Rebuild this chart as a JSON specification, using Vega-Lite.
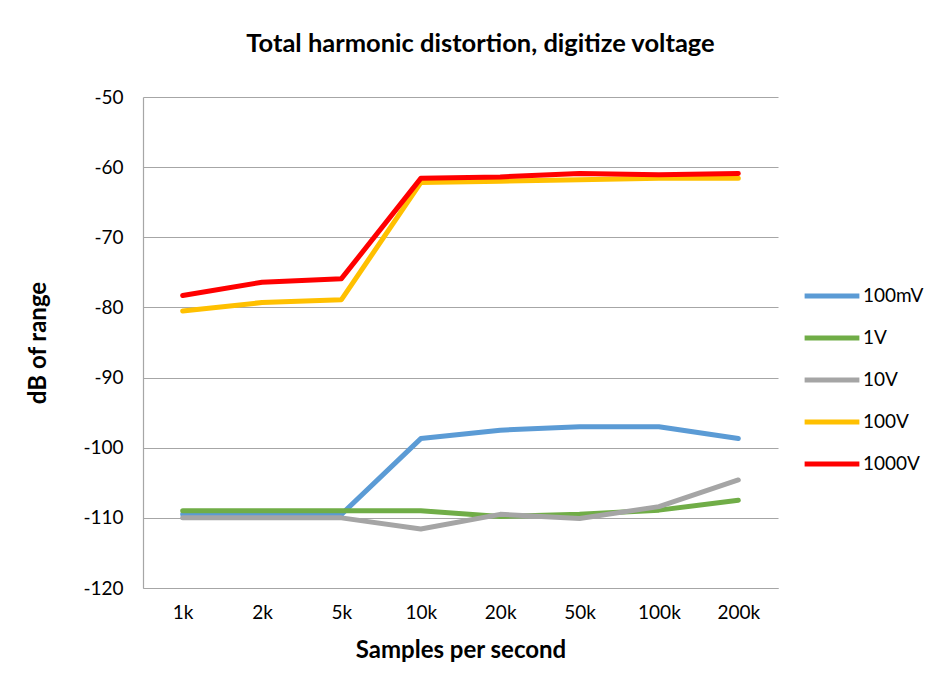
{
  "$schema": "https://vega.github.io/schema/vega-lite/v6.json",
  "width": 635,
  "height": 491,
  "autosize": {"type": "none"},
  "padding": {"left": 143, "top": 97, "right": 162, "bottom": 99},
  "background": "white",
  "title": {
    "text": "Total harmonic distortion, digitize voltage",
    "font": "Lato",
    "fontSize": 25.5,
    "fontWeight": "bold",
    "color": "#000000",
    "anchor": "middle",
    "dx": 20,
    "offset": 31
  },
  "config": {
    "view": {"stroke": null},
    "font": "Lato"
  },
  "data": {
    "values": [
      {"rate": "1k", "series": "100mV", "db": -109.5},
      {"rate": "2k", "series": "100mV", "db": -109.5},
      {"rate": "5k", "series": "100mV", "db": -109.5},
      {"rate": "10k", "series": "100mV", "db": -98.7},
      {"rate": "20k", "series": "100mV", "db": -97.5},
      {"rate": "50k", "series": "100mV", "db": -97.0},
      {"rate": "100k", "series": "100mV", "db": -97.0},
      {"rate": "200k", "series": "100mV", "db": -98.7},
      {"rate": "1k", "series": "1V", "db": -109.0},
      {"rate": "2k", "series": "1V", "db": -109.0},
      {"rate": "5k", "series": "1V", "db": -109.0},
      {"rate": "10k", "series": "1V", "db": -109.0},
      {"rate": "20k", "series": "1V", "db": -109.8},
      {"rate": "50k", "series": "1V", "db": -109.5},
      {"rate": "100k", "series": "1V", "db": -108.9},
      {"rate": "200k", "series": "1V", "db": -107.5},
      {"rate": "1k", "series": "10V", "db": -110.0},
      {"rate": "2k", "series": "10V", "db": -110.0},
      {"rate": "5k", "series": "10V", "db": -110.0},
      {"rate": "10k", "series": "10V", "db": -111.6},
      {"rate": "20k", "series": "10V", "db": -109.5},
      {"rate": "50k", "series": "10V", "db": -110.1},
      {"rate": "100k", "series": "10V", "db": -108.4},
      {"rate": "200k", "series": "10V", "db": -104.6},
      {"rate": "1k", "series": "100V", "db": -80.5},
      {"rate": "2k", "series": "100V", "db": -79.3},
      {"rate": "5k", "series": "100V", "db": -78.9},
      {"rate": "10k", "series": "100V", "db": -62.2},
      {"rate": "20k", "series": "100V", "db": -62.0},
      {"rate": "50k", "series": "100V", "db": -61.8},
      {"rate": "100k", "series": "100V", "db": -61.6},
      {"rate": "200k", "series": "100V", "db": -61.6},
      {"rate": "1k", "series": "1000V", "db": -78.3},
      {"rate": "2k", "series": "1000V", "db": -76.4},
      {"rate": "5k", "series": "1000V", "db": -75.9},
      {"rate": "10k", "series": "1000V", "db": -61.6},
      {"rate": "20k", "series": "1000V", "db": -61.4},
      {"rate": "50k", "series": "1000V", "db": -60.9},
      {"rate": "100k", "series": "1000V", "db": -61.1},
      {"rate": "200k", "series": "1000V", "db": -60.9}
    ]
  },
  "mark": {"type": "line", "strokeWidth": 5, "strokeCap": "round", "strokeJoin": "round"},
  "encoding": {
    "x": {
      "field": "rate",
      "type": "ordinal",
      "sort": ["1k", "2k", "5k", "10k", "20k", "50k", "100k", "200k"],
      "scale": {"type": "point", "padding": 0.5},
      "axis": {
        "title": "Samples per second",
        "titleFont": "Lato",
        "titleFontSize": 24,
        "titleFontWeight": "bold",
        "titleColor": "#000000",
        "titlePadding": 16,
        "labelFont": "Lato",
        "labelFontSize": 19,
        "labelColor": "#000000",
        "labelAngle": 0,
        "labelPadding": 15,
        "ticks": false,
        "grid": false,
        "domainColor": "#A6A6A6",
        "domainWidth": 1.2
      }
    },
    "y": {
      "field": "db",
      "type": "quantitative",
      "scale": {"domain": [-120, -50], "nice": false, "zero": false},
      "axis": {
        "title": "dB of range",
        "titleFont": "Lato",
        "titleFontSize": 24,
        "titleFontWeight": "bold",
        "titleColor": "#000000",
        "titlePadding": 32,
        "values": [-120, -110, -100, -90, -80, -70, -60, -50],
        "labelExpr": "replace(datum.label, '\u2212', '-')",
        "labelFont": "Lato",
        "labelFontSize": 19,
        "labelColor": "#000000",
        "labelPadding": 20,
        "ticks": false,
        "grid": true,
        "gridColor": "#A6A6A6",
        "gridWidth": 1.2,
        "domainColor": "#A6A6A6",
        "domainWidth": 1.2
      }
    },
    "color": {
      "field": "series",
      "type": "nominal",
      "sort": ["100mV", "1V", "10V", "100V", "1000V"],
      "scale": {
        "domain": ["100mV", "1V", "10V", "100V", "1000V"],
        "range": ["#5B9BD5", "#70AD47", "#A5A5A5", "#FFC000", "#FF0000"]
      },
      "legend": {
        "title": null,
        "orient": "none",
        "legendX": 659,
        "legendY": 169,
        "symbolType": "stroke",
        "symbolSize": 3000,
        "symbolStrokeWidth": 5,
        "labelFont": "Lato",
        "labelFontSize": 19,
        "labelColor": "#000000",
        "labelOffset": 1,
        "rowPadding": 2
      }
    }
  }
}
